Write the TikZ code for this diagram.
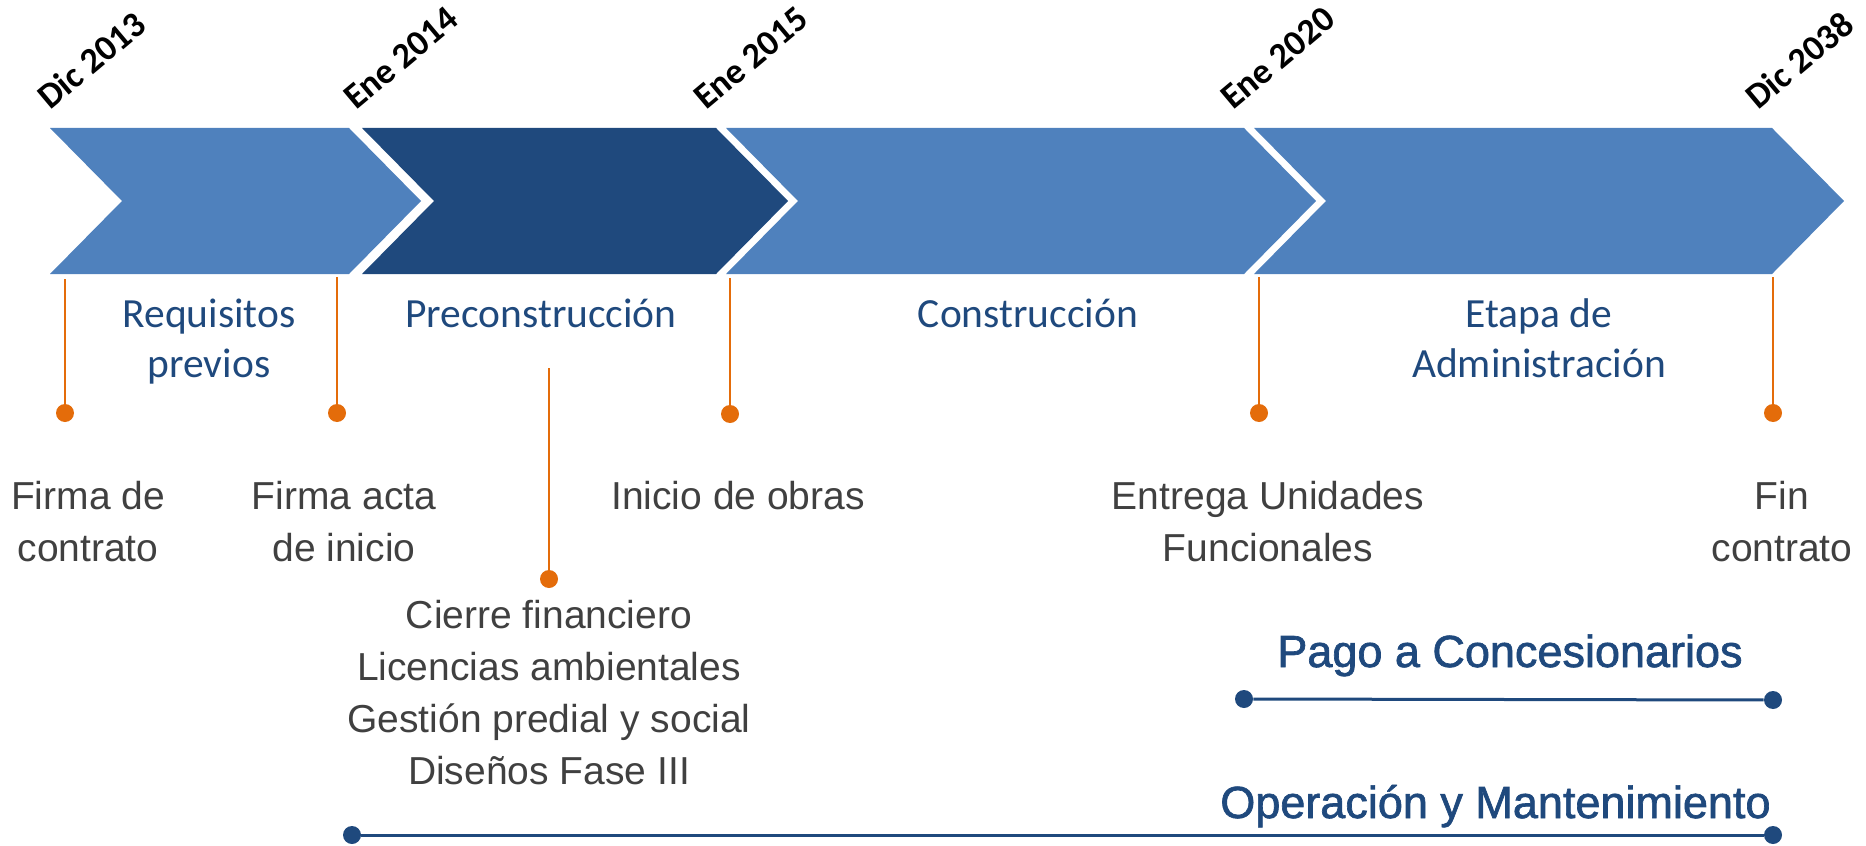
\documentclass[tikz,border=0pt]{standalone}
\usepackage{fontspec}
\setmainfont{Liberation Sans}
\newfontfamily\calibri{Carlito}
\newfontfamily\spanfont[FakeBold=1.5]{Liberation Sans}

\definecolor{lightblue}{HTML}{4F81BD}
\definecolor{darkblue}{HTML}{1F497D}
\definecolor{orangeline}{HTML}{E46C0A}
\definecolor{graytext}{HTML}{404040}

\tikzset{
    datelabel/.style={rotate=40, anchor=base west, inner sep=0pt, font=\calibri\bfseries\fontsize{18}{22}\selectfont},
    phaselabel/.style={align=center, text=darkblue, inner sep=0pt, anchor=base, font=\calibri\fontsize{20.75}{25}\selectfont},
    eventlabel/.style={align=center, text=graytext, inner sep=0pt, anchor=base, font=\fontsize{19.5}{26}\selectfont},
    spanlabel/.style={text=darkblue, inner sep=0pt, font=\spanfont\fontsize{22.5}{27}\selectfont},
    odot/.style={circle, fill=orangeline, inner sep=0pt, minimum size=9pt},
    bdot/.style={circle, fill=darkblue, inner sep=0pt, minimum size=9pt},
    oline/.style={draw=orangeline, line width=1.2pt},
    bline/.style={draw=darkblue, line width=1.5pt}
}

\begin{document}
\begin{tikzpicture}[x=0.5pt, y=-0.5pt]
    \useasboundingbox (0, 0) rectangle (1866, 845);
    % chevrons
    \foreach \a/\b/\c in {50/349/lightblue, 362/716/darkblue, 726/1244/lightblue, 1254/1772/lightblue}
        \fill[\c] (\a, 128) -- (\b, 128) -- (\b+72, 201) -- (\b, 274) -- (\a, 274) -- (\a+72, 201) -- cycle;

    \node[datelabel] (dic13) at (50, 111) {Dic 2013};
    \node[datelabel] (ene14) at (356, 111) {Ene 2014};
    \node[datelabel] (ene15) at (706, 111) {Ene 2015};
    \node[datelabel] (ene20) at (1233, 111) {Ene 2020};
    \node[datelabel] (dic38) at (1758, 111) {Dic 2038};

    \node[phaselabel] (req) at (209, 377) {Requisitos\\previos};
    \node[phaselabel] (precons) at (541, 327) {Preconstrucción};
    \node[phaselabel] (cons) at (1028, 327) {Construcción};
    \node[phaselabel] (admin) at (1539, 377) {Etapa de\\Administración};

    % hitos
    \coordinate (t1) at (65, 279);
    \coordinate (t2) at (337, 277);
    \coordinate (t3) at (730, 278);
    \coordinate (t4) at (1259, 277);
    \coordinate (t5) at (1773, 277);
    \coordinate (t6) at (549, 368);
    \node[odot] (d1) at (65, 413) {};
    \node[odot] (d2) at (337, 413) {};
    \node[odot] (d3) at (730, 414) {};
    \node[odot] (d4) at (1259, 413) {};
    \node[odot] (d5) at (1773, 413) {};
    \node[odot] (d6) at (549, 579) {};
    \foreach \i in {1,...,6}
        \draw[oline] (t\i) -- (d\i);

    \node[eventlabel] (firma) at (88, 561) {Firma de\\contrato};
    \node[eventlabel] (acta) at (344, 561) {Firma acta\\de inicio};
    \node[eventlabel] (obras) at (738, 509) {Inicio de obras};
    \node[eventlabel] (entrega) at (1268, 561) {Entrega Unidades\\Funcionales};
    \node[eventlabel] (fin) at (1782, 561) {Fin\\contrato};
    \node[eventlabel] (cierre) at (549, 784) {Cierre financiero\\Licencias ambientales\\Gestión predial y social\\Diseños Fase III};

    % pagos y operacion
    \node[spanlabel, anchor=base] (pago) at (1510, 667) {Pago a Concesionarios};
    \node[bdot] (p1) at (1244, 699) {};
    \node[bdot] (p2) at (1773, 700) {};
    \draw[bline] (p1) -- (p2);
    \node[spanlabel, anchor=base east] (oper) at (1771, 818) {Operación y Mantenimiento};
    \node[bdot] (o1) at (352, 835) {};
    \node[bdot] (o2) at (1773, 835) {};
    \draw[bline] (o1) -- (o2);
\end{tikzpicture}
\end{document}
